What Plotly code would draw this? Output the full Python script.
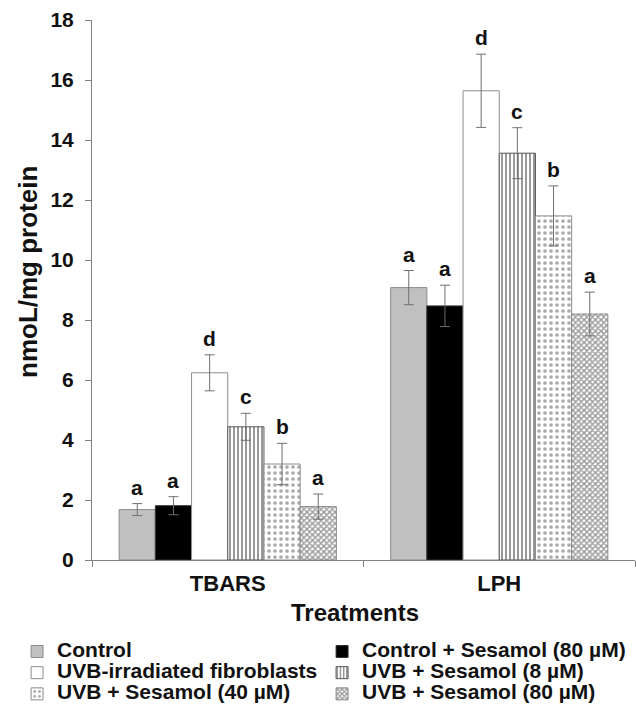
import plotly.graph_objects as go

categories = ["TBARS", "LPH"]
series_names = [
    "Control",
    "Control + Sesamol (80 µM)",
    "UVB-irradiated fibroblasts",
    "UVB + Sesamol (8 µM)",
    "UVB + Sesamol (40 µM)",
    "UVB + Sesamol (80 µM)",
]
tbars_values = [1.68, 1.81, 6.24, 4.44, 3.20, 1.78]
tbars_errors = [0.20, 0.30, 0.60, 0.45, 0.69, 0.42]
lph_values = [9.08, 8.47, 15.64, 13.56, 11.47, 8.20]
lph_errors = [0.57, 0.69, 1.22, 0.85, 1.00, 0.73]
tbars_letters = ["a", "a", "d", "c", "b", "a"]
lph_letters = ["a", "a", "d", "c", "b", "a"]
y_ticks = [0, 2, 4, 6, 8, 10, 12, 14, 16, 18]

FONT = "Liberation Sans, Arial, sans-serif"
TXT = "#111111"

styles = [
    dict(color="#c0c0c0", line=dict(color="#8c8c8c", width=1)),
    dict(color="#000000", line=dict(color="#333333", width=1)),
    dict(color="#ffffff", line=dict(color="#8c8c8c", width=1)),
    dict(color="#ffffff", line=dict(color="#555555", width=1),
         pattern=dict(shape="|", fgcolor="#000000", bgcolor="#ffffff", size=4, solidity=0.4)),
    dict(color="#ffffff", line=dict(color="#8c8c8c", width=1),
         pattern=dict(shape=".", fgcolor="#555555", bgcolor="#ffffff", size=6, solidity=0.3)),
    dict(color="#ffffff", line=dict(color="#8c8c8c", width=1),
         pattern=dict(shape="x", fgcolor="#333333", bgcolor="#ffffff", size=4, solidity=0.6)),
]

fig = go.Figure()
for j, name in enumerate(series_names):
    fig.add_trace(go.Bar(
        x=categories,
        y=[tbars_values[j], lph_values[j]],
        name="<span style='font-size:21px'>" + name + "</span>",
        marker=styles[j],
        error_y=dict(type="data", array=[tbars_errors[j], lph_errors[j]],
                     color="#6e6e6e", thickness=1, width=5),
    ))

n = len(series_names)
group_frac = 0.8
annotations = []
for i, (vals, errs, letters) in enumerate([(tbars_values, tbars_errors, tbars_letters),
                                           (lph_values, lph_errors, lph_letters)]):
    for j in range(n):
        xpos = i - group_frac / 2 + (j + 0.5) * group_frac / n
        annotations.append(dict(
            x=xpos, y=vals[j] + errs[j], xref="x", yref="y",
            text=letters[j], showarrow=False, yanchor="bottom", yshift=3,
            font=dict(family=FONT, size=21, color=TXT, weight="bold"),
        ))

# y-axis title
annotations.append(dict(
    x=(28 - 92) / 543, xref="paper", xanchor="center",
    y=(560 - 272) / 540, yref="paper", yanchor="middle",
    text="nmoL/mg protein", textangle=-90, showarrow=False,
    font=dict(family=FONT, size=26, color=TXT, weight="bold"),
))
# x-axis title
annotations.append(dict(
    x=(355 - 92) / 543, xref="paper", xanchor="center",
    y=(560 - 612) / 540, yref="paper", yanchor="middle",
    text="Treatments", showarrow=False,
    font=dict(family=FONT, size=24, color=TXT, weight="bold"),
))

fig.update_layout(
    width=636, height=707,
    margin=dict(l=92, r=1, t=20, b=147, autoexpand=False),
    paper_bgcolor="white", plot_bgcolor="white",
    barmode="group", bargap=0.2, bargroupgap=0,
    font=dict(family=FONT, color=TXT),
    annotations=annotations,
    showlegend=True,
    legend=dict(
        orientation="h", x=-0.138, xanchor="left", y=-0.1405, yanchor="top",
        entrywidth=260, entrywidthmode="pixels", traceorder="normal",
        font=dict(family=FONT, size=14, color=TXT, weight="bold"),
        itemclick=False, bgcolor="rgba(0,0,0,0)",
    ),
    xaxis=dict(
        showline=True, linecolor="#808080", linewidth=1,
        ticks="outside", tickson="boundaries", ticklen=6, tickcolor="#808080",
        ticklabelstandoff=4, automargin=False,
        tickfont=dict(family=FONT, size=22, color=TXT, weight="bold"),
        showgrid=False, zeroline=False,
    ),
    yaxis=dict(
        range=[0, 18], tickvals=y_ticks, automargin=False,
        showline=True, linecolor="#808080", linewidth=1,
        ticks="outside", ticklen=6, tickcolor="#808080", ticklabelstandoff=7,
        tickfont=dict(family=FONT, size=21, color=TXT, weight="bold"),
        showgrid=False, zeroline=False,
    ),
)

fig.write_html("out.html")
